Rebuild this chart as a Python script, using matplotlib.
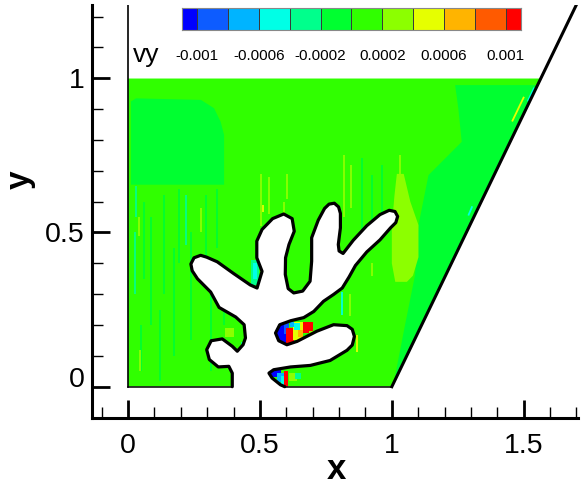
import matplotlib
matplotlib.use("Agg")
import matplotlib.pyplot as plt
from matplotlib.colors import ListedColormap, BoundaryNorm
from matplotlib.path import Path
from matplotlib.patches import PathPatch, Polygon
from matplotlib.collections import LineCollection

plt.rcParams['font.family'] = ['Liberation Sans', 'DejaVu Sans']

# contour levels of vy and their flood colours
level_edges = [-0.0012, -0.001, -0.0008, -0.0006, -0.0004, -0.0002, 0.0,
               0.0002, 0.0004, 0.0006, 0.0008, 0.001, 0.0012]
level_colors = ['#0000ff', '#0d5cff', '#00b4ff', '#00ffe6', '#00ff8c', '#00ff30',
                '#30ff00', '#8cff00', '#e6ff00', '#ffb400', '#ff5a00', '#ff0000']
cb_edges = [-0.0011, -0.001, -0.0008, -0.0006, -0.0004, -0.0002, 0.0,
            0.0002, 0.0004, 0.0006, 0.0008, 0.001, 0.0011]
cb_ticks = [-0.001, -0.0006, -0.0002, 0.0002, 0.0006, 0.001]
cb_labels = ['-0.001', '-0.0006', '-0.0002', '0.0002', '0.0006', '0.001']

# channel: left wall x=0, bottom y=0, inclined right wall from (1, 0)
wall_slope = 0.565
dom_x = [0.0, 1.0, 1.0 + wall_slope, 0.0]
dom_y = [0.0, 0.0, 1.0, 1.0]

# coral shaped obstacle (clockwise)
coral_x = [0.395, 0.395, 0.382, 0.342, 0.308, 0.298, 0.315, 0.357, 0.395, 0.414,
           0.436, 0.445, 0.440, 0.408, 0.345, 0.313, 0.263, 0.243, 0.238, 0.250,
           0.275, 0.298, 0.338, 0.400, 0.463, 0.489, 0.508, 0.488, 0.488, 0.508,
           0.548, 0.590, 0.622, 0.630, 0.610, 0.597, 0.596, 0.607, 0.628, 0.662,
           0.690, 0.696, 0.696, 0.721, 0.745, 0.762, 0.782, 0.798, 0.805, 0.805,
           0.797, 0.800, 0.815, 0.854, 0.905, 0.955, 0.990, 1.012, 1.022, 1.015,
           0.995, 0.955, 0.905, 0.862, 0.838, 0.812, 0.779, 0.741, 0.704, 0.666,
           0.617, 0.575, 0.559, 0.571, 0.602, 0.641, 0.716, 0.779, 0.830, 0.850,
           0.858, 0.850, 0.830, 0.766, 0.691, 0.616, 0.552, 0.534, 0.546, 0.578,
           0.594]
coral_y = [0.000, 0.044, 0.066, 0.064, 0.088, 0.120, 0.149, 0.155, 0.131, 0.115,
           0.136, 0.158, 0.201, 0.226, 0.257, 0.307, 0.350, 0.376, 0.398, 0.418,
           0.426, 0.420, 0.405, 0.367, 0.330, 0.320, 0.374, 0.418, 0.472, 0.510,
           0.545, 0.560, 0.545, 0.504, 0.461, 0.418, 0.364, 0.318, 0.304, 0.310,
           0.342, 0.407, 0.483, 0.540, 0.578, 0.592, 0.595, 0.583, 0.562, 0.515,
           0.461, 0.440, 0.432, 0.475, 0.522, 0.558, 0.572, 0.568, 0.552, 0.532,
           0.515, 0.476, 0.437, 0.393, 0.356, 0.320, 0.299, 0.277, 0.244, 0.224,
           0.214, 0.201, 0.174, 0.149, 0.136, 0.147, 0.180, 0.201, 0.198, 0.186,
           0.163, 0.135, 0.118, 0.085, 0.069, 0.064, 0.055, 0.044, 0.028, 0.006,
           0.000]

# background level and large flooded zones
base_vy = 0.0001
zone_a_x = [0.011, 0.011, 0.03, 0.276, 0.326, 0.351, 0.364, 0.364]
zone_a_y = [0.655, 0.925, 0.935, 0.930, 0.903, 0.859, 0.816, 0.655]
zone_a_vy = -0.0001
zone_b_x = [1.24, 1.8, 1.8, 1.0, 1.013, 1.05, 1.088, 1.101, 1.139, 1.265, 1.252]
zone_b_y = [0.978, 0.978, -0.01, -0.01, 0.038, 0.2, 0.362, 0.524, 0.686, 0.794, 0.903]
zone_b_vy = -0.0001
zone_c_x = [1.019, 1.045, 1.07, 1.101, 1.101, 1.08, 1.057, 1.013, 1.0, 1.0, 1.01]
zone_c_y = [0.69, 0.69, 0.6, 0.524, 0.42, 0.36, 0.34, 0.34, 0.40, 0.52, 0.62]
zone_c_vy = 0.0003

# thin streaks in the field
streak_x0 = [0.062, 0.087, 0.137, 0.175, 0.194, 0.238, 0.295, 0.314, 0.339, 0.364,
             0.12, 0.05, 0.03, 0.028, 0.219, 0.276, 0.04, 0.045, 0.503, 0.534,
             0.603, 0.591, 0.51, 1.032, 0.924, 0.962, 0.887, 0.811, 0.843, 0.868,
             0.924, 0.82, 0.845, 1.29, 1.456, 1.515]
streak_y0 = [0.35, 0.20, 0.30, 0.10, 0.40, 0.15, 0.42, 0.05, 0.45, 0.20,
             0.02, 0.05, 0.55, 0.30, 0.46, 0.50, 0.49, 0.05, 0.52, 0.56,
             0.61, 0.55, 0.565, 0.557, 0.524, 0.557, 0.50, 0.232, 0.23, 0.113,
             0.36, 0.55, 0.58, 0.555, 0.86, 0.925]
streak_x1 = [0.062, 0.087, 0.137, 0.175, 0.194, 0.238, 0.295, 0.314, 0.339, 0.364,
             0.12, 0.05, 0.03, 0.028, 0.219, 0.276, 0.04, 0.045, 0.503, 0.534,
             0.603, 0.591, 0.51, 1.032, 0.924, 0.962, 0.887, 0.811, 0.843, 0.868,
             0.924, 0.82, 0.845, 1.305, 1.501, 1.54]
streak_y1 = [0.60, 0.55, 0.62, 0.45, 0.64, 0.50, 0.62, 0.30, 0.64, 0.33,
             0.25, 0.20, 0.65, 0.50, 0.62, 0.58, 0.55, 0.12, 0.69, 0.68,
             0.69, 0.60, 0.59, 0.751, 0.686, 0.718, 0.74, 0.308, 0.30, 0.168,
             0.40, 0.75, 0.72, 0.585, 0.94, 0.97]
streak_vy = [-0.0001] * 12 + [-0.0003, -0.0003, -0.0003] + [0.0003] * 7 + [0.0005] \
    + [0.0003, -0.0001, -0.0001, -0.0001, -0.0005, 0.0003, 0.0005, 0.0003, 0.0003,
       0.0003, -0.0005, 0.0005, -0.0005]

# small spots next to the obstacle
spot_x = [0.465, 0.475, 0.367, 0.427,
          0.562, 0.59, 0.600, 0.625, 0.63, 0.645, 0.663, 0.685, 0.615,
          0.539, 0.565, 0.579, 0.593, 0.609, 0.634]
spot_y = [0.33, 0.35, 0.16, 0.11,
          0.14, 0.17, 0.136, 0.15, 0.185, 0.16, 0.175, 0.16, 0.195,
          0.03, 0.015, 0.005, 0.0, 0.02, 0.025]
spot_w = [0.03, 0.015, 0.035, 0.025,
          0.04, 0.02, 0.028, 0.04, 0.02, 0.02, 0.038, 0.03, 0.015,
          0.04, 0.03, 0.015, 0.014, 0.03, 0.02]
spot_h = [0.08, 0.05, 0.03, 0.035,
          0.07, 0.035, 0.055, 0.06, 0.02, 0.025, 0.035, 0.02, 0.015,
          0.025, 0.03, 0.03, 0.05, 0.025, 0.02]
spot_vy = [-0.0003, -0.0005, 0.0003, -0.0003,
           -0.0011, -0.0009, 0.0012, 0.0005, -0.0005, 0.0007, 0.0012, 0.0003, -0.0007,
           -0.0011, -0.0007, -0.0005, 0.0012, 0.0003, -0.0003]

cmap = ListedColormap(level_colors)
norm = BoundaryNorm(level_edges, cmap.N)


def col(v):
    return cmap(norm(v))


fig = plt.figure(figsize=(5.82, 4.91), dpi=100)
ax = fig.add_axes([0.158, 0.1487, 0.8352, 0.8411])
ax.set_xlim(-0.137, 1.706)
ax.set_ylim(-0.1015, 1.2377)

# flow domain with the obstacle cut out, used to clip the flood
verts = list(zip(dom_x, dom_y)) + [(0, 0)] + list(zip(coral_x, coral_y)) + [(0, 0)]
codes = [Path.MOVETO] + [Path.LINETO] * 3 + [Path.CLOSEPOLY] \
    + [Path.MOVETO] + [Path.LINETO] * (len(coral_x) - 1) + [Path.CLOSEPOLY]
domain = PathPatch(Path(verts, codes), transform=ax.transData)

base = Polygon(list(zip(dom_x, dom_y)), closed=True, facecolor=col(base_vy),
               edgecolor='none', zorder=1)
ax.add_patch(base)
base.set_clip_path(domain)

for zx, zy, zv in [(zone_a_x, zone_a_y, zone_a_vy), (zone_b_x, zone_b_y, zone_b_vy),
                   (zone_c_x, zone_c_y, zone_c_vy)]:
    p = Polygon(list(zip(zx, zy)), closed=True, facecolor=col(zv),
                edgecolor='none', zorder=1.5)
    ax.add_patch(p)
    p.set_clip_path(domain)

segs = [[(a, b), (c, d)] for a, b, c, d in zip(streak_x0, streak_y0, streak_x1, streak_y1)]
lc = LineCollection(segs, colors=[col(v) for v in streak_vy], linewidths=1.3, zorder=2)
ax.add_collection(lc)
lc.set_clip_path(domain)

bars = ax.bar(spot_x, spot_h, width=spot_w, bottom=spot_y, align='edge',
              color=[col(v) for v in spot_vy], linewidth=0, zorder=3)
for b in bars:
    b.set_clip_path(domain)

# walls and obstacle outline
ax.plot(coral_x, coral_y, color='k', lw=2.3, solid_joinstyle='round',
        solid_capstyle='round', zorder=6)
ax.plot([0, coral_x[0]], [0, 0], color='k', lw=1.1, zorder=5)
ax.plot([coral_x[-1], 1], [0, 0], color='k', lw=1.1, zorder=5)
ax.plot([0, 0], [0, 1.3], color='k', lw=1.2, zorder=5)
ax.plot([1, 1 + wall_slope * 1.3], [0, 1.3], color='k', lw=2.2, zorder=5)

for s in ['top', 'right']:
    ax.spines[s].set_visible(False)
for s in ['left', 'bottom']:
    ax.spines[s].set_linewidth(2.2)
ax.set_xticks([0, 0.5, 1, 1.5], ['0', '0.5', '1', '1.5'])
ax.set_yticks([0, 0.5, 1], ['0', '0.5', '1'])
ax.set_xticks([-0.1, 0.1, 0.2, 0.3, 0.4, 0.6, 0.7, 0.8, 0.9, 1.1, 1.2, 1.3, 1.4, 1.6, 1.7],
              minor=True)
ax.set_yticks([-0.1, 0.1, 0.2, 0.3, 0.4, 0.6, 0.7, 0.8, 0.9, 1.1, 1.2], minor=True)
ax.tick_params(which='major', direction='in', length=13, width=2, labelsize=20.5)
ax.tick_params(which='minor', direction='in', length=8, width=1)
ax.tick_params(axis='x', which='major', pad=10.5)
ax.tick_params(axis='y', which='major', pad=5.5)
ax.yaxis.get_major_ticks()[0].label1.set_verticalalignment('baseline')

ax.set_xlabel('x', fontsize=25, fontweight='bold')
ax.set_ylabel('y', fontsize=24, fontweight='bold')
ax.xaxis.set_label_coords(0.504, -0.085)
ax.yaxis.set_label_coords(-0.115, 0.576)

# legend bar at the top
cax = fig.add_axes([0.3127, 0.9389, 0.5825, 0.0448])
cb_values = [(a + b) / 2 for a, b in zip(cb_edges[:-1], cb_edges[1:])]
cax.pcolormesh(cb_edges, [0, 1], [cb_values], cmap=cmap, norm=norm,
               edgecolors='#3a3a3a', linewidth=0.4)
cax.set_xlim(cb_edges[0], cb_edges[-1])
cax.set_ylim(0, 1)
cax.set_yticks([])
cax.set_xticks(cb_ticks, cb_labels)
cax.tick_params(axis='x', length=0, pad=14, labelsize=11)
for s in cax.spines.values():
    s.set_color('#888888')
    s.set_linewidth(0.8)
fig.text(0.2285, 0.8737, 'vy', fontsize=19, ha='left', va='baseline')

fig.savefig('out.png', dpi=100)
